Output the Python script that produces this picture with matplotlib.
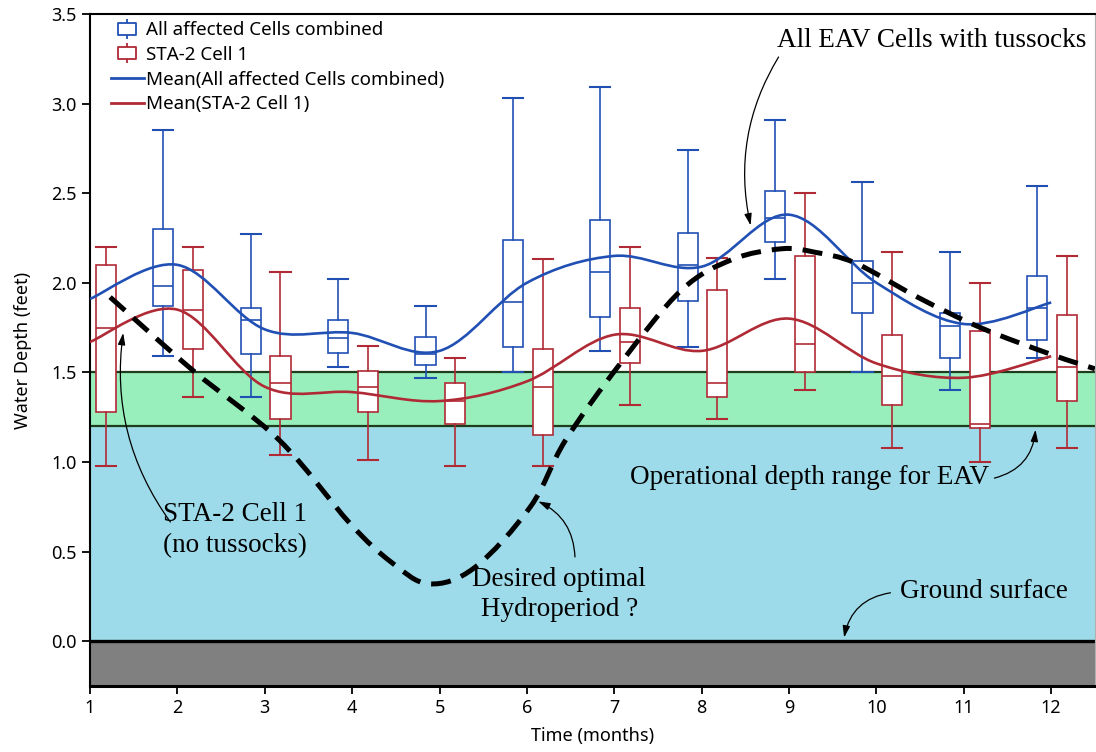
import numpy as np
import matplotlib
matplotlib.use("Agg")
import matplotlib.pyplot as plt
from matplotlib.path import Path
from matplotlib.patches import PathPatch
from matplotlib.lines import Line2D

# ---- data ----
months = [1, 2, 3, 4, 5, 6, 7, 8, 9, 10, 11, 12]

# All affected Cells combined (months 2..12)
all_months = [2, 3, 4, 5, 6, 7, 8, 9, 10, 11, 12]
all_whislo = [1.59, 1.36, 1.53, 1.47, 1.50, 1.62, 1.64, 2.02, 1.50, 1.40, 1.58]
all_q1 = [1.87, 1.60, 1.61, 1.54, 1.64, 1.81, 1.90, 2.23, 1.83, 1.58, 1.68]
all_med = [1.98, 1.79, 1.69, 1.60, 1.89, 2.06, 2.10, 2.36, 2.00, 1.76, 1.86]
all_q3 = [2.30, 1.86, 1.79, 1.70, 2.24, 2.35, 2.28, 2.51, 2.12, 1.83, 2.04]
all_whishi = [2.85, 2.27, 2.02, 1.87, 3.03, 3.09, 2.74, 2.91, 2.56, 2.17, 2.54]
all_mean = [1.91, 2.10, 1.74, 1.72, 1.62, 2.00, 2.15, 2.09, 2.38, 2.00, 1.77, 1.89]

# STA-2 Cell 1 (months 1..12)
sta_whislo = [0.98, 1.36, 1.04, 1.01, 0.98, 0.98, 1.32, 1.24, 1.40, 1.08, 1.00, 1.08]
sta_q1 = [1.28, 1.63, 1.24, 1.28, 1.21, 1.15, 1.55, 1.36, 1.50, 1.32, 1.19, 1.34]
sta_med = [1.75, 1.85, 1.44, 1.42, 1.34, 1.42, 1.67, 1.44, 1.66, 1.48, 1.21, 1.53]
sta_q3 = [2.10, 2.07, 1.59, 1.51, 1.44, 1.63, 1.86, 1.96, 2.15, 1.71, 1.73, 1.82]
sta_whishi = [2.20, 2.20, 2.06, 1.65, 1.58, 2.13, 2.20, 2.14, 2.50, 2.17, 2.00, 2.15]
sta_mean = [1.67, 1.85, 1.42, 1.39, 1.34, 1.45, 1.71, 1.62, 1.80, 1.55, 1.47, 1.59]

# hand drawn "desired optimal hydroperiod" curve
hydro_x = [1.23, 2.18, 3.17, 3.97, 4.45, 4.88, 5.40, 6.04, 6.44, 7.07, 7.77,
           8.35, 8.92, 9.30, 9.76, 10.47, 11.19, 12.0, 12.5]
hydro_y = [1.92, 1.51, 1.12, 0.66, 0.44, 0.32, 0.41, 0.75, 1.12, 1.55, 1.96,
           2.13, 2.19, 2.17, 2.11, 1.92, 1.75, 1.60, 1.52]

eav_low, eav_high = 1.2, 1.5
ground = 0.0

blue = "#2150b4"
red = "#b02a36"
sans = ["Noto Sans", "DejaVu Sans"]
serif = ["Liberation Serif", "DejaVu Serif"]


def smooth_path(xs, ys):
    # catmull-rom through the points, drawn as bezier segments
    pts = np.column_stack([xs, ys]).astype(float)
    n = len(pts)
    verts = [pts[0]]
    codes = [Path.MOVETO]
    for i in range(n - 1):
        p0 = pts[i - 1] if i > 0 else pts[i]
        p1 = pts[i]
        p2 = pts[i + 1]
        p3 = pts[i + 2] if i + 2 < n else pts[i + 1]
        verts += [p1 + (p2 - p0) / 6, p2 - (p3 - p1) / 6, p2]
        codes += [Path.CURVE4] * 3
    return Path(verts, codes)


def box_stats(lo, q1, med, q3, hi):
    return [dict(whislo=a, q1=b, med=c, q3=d, whishi=e, fliers=[])
            for a, b, c, d, e in zip(lo, q1, med, q3, hi)]


fig = plt.figure(figsize=(10.96, 7.52), dpi=100)
ax = fig.add_axes([0.0821, 0.0878, 0.9169, 0.8936])
ax.set_xlim(1, 12.5)
ax.set_ylim(-0.25, 3.5)

# background bands
ax.axhspan(-0.25, ground, color="#808080", zorder=0)
ax.axhspan(ground, eav_low, color="#9edbea", zorder=0)
ax.axhspan(eav_low, eav_high, color="#99efbb", zorder=0)
ax.axhline(eav_low, color="#1d3d1d", lw=1.6, zorder=1)
ax.axhline(eav_high, color="#1d3d1d", lw=1.6, zorder=1)
ax.axhline(ground, color="black", lw=2.4, zorder=1)

w = 0.23
for stats, pos, col in [
    (box_stats(all_whislo, all_q1, all_med, all_q3, all_whishi),
     [m - 0.16 for m in all_months], blue),
    (box_stats(sta_whislo, sta_q1, sta_med, sta_q3, sta_whishi),
     [m + 0.18 for m in months], red),
]:
    ax.bxp(stats, positions=pos, widths=w, capwidths=w, patch_artist=True,
           showfliers=False, manage_ticks=False,
           boxprops=dict(facecolor="white", edgecolor=col, lw=1.2),
           whiskerprops=dict(color=col, lw=1.2),
           capprops=dict(color=col, lw=1.5),
           medianprops=dict(color=col, lw=1.2), zorder=2)

ax.add_patch(PathPatch(smooth_path(months, all_mean), fill=False,
                       edgecolor=blue, lw=1.9, zorder=3))
ax.add_patch(PathPatch(smooth_path(months, sta_mean), fill=False,
                       edgecolor=red, lw=1.9, zorder=3))
ax.add_patch(PathPatch(smooth_path(hydro_x, hydro_y), fill=False,
                       edgecolor="black", lw=3.6, linestyle=(0, (4.0, 2.2)),
                       zorder=4))

# annotations
arrow = dict(arrowstyle="-|>,head_length=0.7,head_width=0.22", color="black",
             lw=0.9, shrinkA=0, shrinkB=0)
ax.text(10.63, 3.35, "All EAV Cells with tussocks", family=serif,
        fontsize=19.5, ha="center", va="center", zorder=5)
ax.annotate("", xy=(8.56, 2.32), xytext=(8.88, 3.26),
            arrowprops=dict(arrow, connectionstyle="arc3,rad=0.2"))
ax.text(2.66, 0.62, "STA-2 Cell 1\n(no tussocks)", family=serif,
        fontsize=19.5, ha="center", va="center", linespacing=1.3, zorder=5)
ax.annotate("", xy=(1.38, 1.72), xytext=(1.92, 0.665),
            arrowprops=dict(arrow, connectionstyle="arc3,rad=-0.2"))
ax.text(9.24, 0.915, "Operational depth range for EAV", family=serif,
        fontsize=19.5, ha="center", va="center", zorder=5)
ax.annotate("", xy=(11.82, 1.18), xytext=(11.35, 0.91),
            arrowprops=dict(arrow, connectionstyle="arc3,rad=0.35"))
ax.text(6.37, 0.26, "Desired optimal\nHydroperiod ?", family=serif,
        fontsize=19.5, ha="center", va="center", linespacing=1.25, zorder=5)
ax.annotate("", xy=(6.13, 0.78), xytext=(6.55, 0.47),
            arrowprops=dict(arrow, connectionstyle="arc3,rad=0.3"))
ax.text(11.23, 0.28, "Ground surface", family=serif, fontsize=19.5,
        ha="center", va="center", zorder=5)
ax.annotate("", xy=(9.63, 0.02), xytext=(10.16, 0.27),
            arrowprops=dict(arrow, connectionstyle="arc3,rad=0.35"))

# axes styling
ax.set_xticks(months)
ax.set_yticks(np.arange(0, 3.51, 0.5))
ax.set_yticklabels([f"{v:.1f}" for v in np.arange(0, 3.51, 0.5)])
ax.tick_params(direction="out", length=6, width=1.3, labelsize=13,
               colors="black")
for lab in ax.get_xticklabels() + ax.get_yticklabels():
    lab.set_family(sans)
for s in ["left", "top", "bottom"]:
    ax.spines[s].set_linewidth(1.5)
    ax.spines[s].set_color("black")
ax.spines["bottom"].set_linewidth(2.2)
ax.spines["right"].set_color("#b0b0b0")
ax.set_xlabel("Time (months)", family=sans, fontsize=13, labelpad=7)
ax.set_ylabel("Water Depth (feet)", family=sans, fontsize=13, labelpad=14)

# legend
box_marker = Path([(-0.45, -0.3), (0.45, -0.3), (0.45, 0.3), (-0.45, 0.3),
                   (-0.45, -0.3), (0, 0.3), (0, 0.55), (0, -0.3), (0, -0.55)],
                  [Path.MOVETO, Path.LINETO, Path.LINETO, Path.LINETO,
                   Path.CLOSEPOLY, Path.MOVETO, Path.LINETO, Path.MOVETO,
                   Path.LINETO])
handles = [
    Line2D([], [], ls="none", marker=box_marker, markersize=15,
           markerfacecolor="none", markeredgecolor=blue, markeredgewidth=1.3),
    Line2D([], [], ls="none", marker=box_marker, markersize=15,
           markerfacecolor="none", markeredgecolor=red, markeredgewidth=1.3),
    Line2D([], [], color=blue, lw=2.0),
    Line2D([], [], color=red, lw=2.0),
]
labels = ["All affected Cells combined", "STA-2 Cell 1",
          "Mean(All affected Cells combined)", "Mean(STA-2 Cell 1)"]
ax.legend(handles, labels, loc="upper left", bbox_to_anchor=(0.013, 1.0),
          frameon=False, prop=dict(family=sans, size=13.5), handlelength=1.8,
          handletextpad=0.1, labelspacing=0.35, borderaxespad=0)

fig.savefig("out.png", dpi=100)
